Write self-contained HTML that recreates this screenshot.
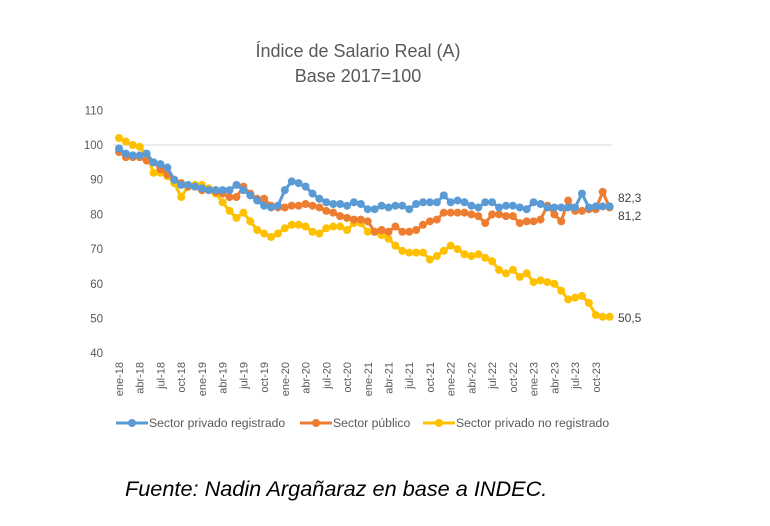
<!DOCTYPE html>
<html><head><meta charset="utf-8"><style>
body{margin:0;background:#fff;width:770px;height:521px;overflow:hidden;font-family:"Liberation Sans",sans-serif}
</style></head><body>
<svg width="770" height="521" xmlns="http://www.w3.org/2000/svg" font-family="Liberation Sans, sans-serif">
<text x="358" y="57" text-anchor="middle" font-size="18" fill="#595959">Índice de Salario Real (A)</text>
<text x="358" y="82" text-anchor="middle" font-size="18" fill="#595959">Base 2017=100</text>
<line x1="113" y1="145" x2="612" y2="145" stroke="#d9d9d9" stroke-width="1"/>
<g font-size="11.5" fill="#595959" text-anchor="end" id="yl"></g>
<g id="xl" font-size="11" fill="#595959"></g>
<g id="series"></g>
<text x="618" y="202" font-size="12" fill="#404040">82,3</text>
<text x="618" y="220" font-size="12" fill="#404040">81,2</text>
<text x="618" y="322" font-size="12" fill="#404040">50,5</text>
<g font-size="12.2" fill="#595959">
<line x1="116" y1="423" x2="148" y2="423" stroke="#5B9BD5" stroke-width="3"/><circle cx="132" cy="423" r="4" fill="#5B9BD5"/>
<text x="149" y="427">Sector privado registrado</text>
<line x1="300" y1="423" x2="332" y2="423" stroke="#ED7D31" stroke-width="3"/><circle cx="316" cy="423" r="4" fill="#ED7D31"/>
<text x="333" y="427">Sector público</text>
<line x1="423" y1="423" x2="455" y2="423" stroke="#FFC000" stroke-width="3"/><circle cx="439" cy="423" r="4" fill="#FFC000"/>
<text x="456" y="427">Sector privado no registrado</text>
</g>
<text x="125" y="496" font-size="21.7" font-style="italic" fill="#000">Fuente: Nadin Argañaraz en base a INDEC.</text>
</svg>
<script>
const NS="http://www.w3.org/2000/svg";
const X=i=>119+i*6.91, Y=v=>145+(100-v)*3.47;
const yl=document.getElementById('yl');
for(let v=40;v<=110;v+=10){const t=document.createElementNS(NS,'text');t.setAttribute('x',103);t.setAttribute('y',Y(v)+4);t.textContent=v;yl.appendChild(t);}
const mon=['ene','abr','jul','oct'];const xl=document.getElementById('xl');
for(let k=0;k<24;k++){const i=k*3;const yr=18+Math.floor(k/4);const t=document.createElementNS(NS,'text');
t.setAttribute('transform',`translate(${X(i)+4},362) rotate(-90)`);t.setAttribute('text-anchor','end');t.textContent=mon[k%4]+'-'+yr;xl.appendChild(t);}
const blue=[99,97.5,97,97,97.5,95,94.5,93.5,90,88.5,88.5,88,87.5,87,87,87,87,88.5,87,85.5,84,82.5,82,82.5,87,89.5,89,88,86,84.5,83.5,83,83,82.5,83.5,83,81.5,81.5,82.5,82,82.5,82.5,81.5,83,83.5,83.5,83.5,85.5,83.5,84,83.5,82.5,82,83.5,83.5,82,82.5,82.5,82,81.5,83.5,83,82,82,82,82,82,86,82,82.3,82.3,82.3];
const orange=[98,96.5,96.5,96.5,95.5,95,93,91.5,90,89,88,88,87,87,86.5,86,85,85,88,86,84.5,84.5,82.5,82,82,82.5,82.5,83,82.5,82,81,80.5,79.5,79,78.5,78.5,78,75,75.5,75,76.5,75,75,75.5,77,78,78.5,80.5,80.5,80.5,80.5,80,79.5,77.5,80,80,79.5,79.5,77.5,78,78,78.5,82.5,80,78,84,81,81,81.5,81.5,86.5,82,81,81.2,81.2,81.2].slice(0,72);
const yellow=[102,101,100,99.5,97,92,92,91,89,85,88,88.5,88.5,87.5,86,83.5,81,79,80.5,78,75.5,74.5,73.5,74.5,76,77,77,76.5,75,74.5,76,76.5,76.5,75.5,77.5,77.5,75,75,74,73,71,69.5,69,69,69,67,68,69.5,71,70,68.5,68,68.5,67.5,66.5,64,63,64,62,63,60.5,61,60.5,60,58,55.5,56,56.5,54.5,51,50.5,50.5];
const g=document.getElementById('series');
[[yellow,'#FFC000'],[orange,'#ED7D31'],[blue,'#5B9BD5']].forEach(([d,c])=>{
const p=document.createElementNS(NS,'polyline');p.setAttribute('points',d.map((v,i)=>X(i)+','+Y(v)).join(' '));
p.setAttribute('fill','none');p.setAttribute('stroke',c);p.setAttribute('stroke-width','3');g.appendChild(p);
d.forEach((v,i)=>{const ci=document.createElementNS(NS,'circle');ci.setAttribute('cx',X(i));ci.setAttribute('cy',Y(v));ci.setAttribute('r',4);ci.setAttribute('fill',c);g.appendChild(ci);});});
</script>
</body></html>
